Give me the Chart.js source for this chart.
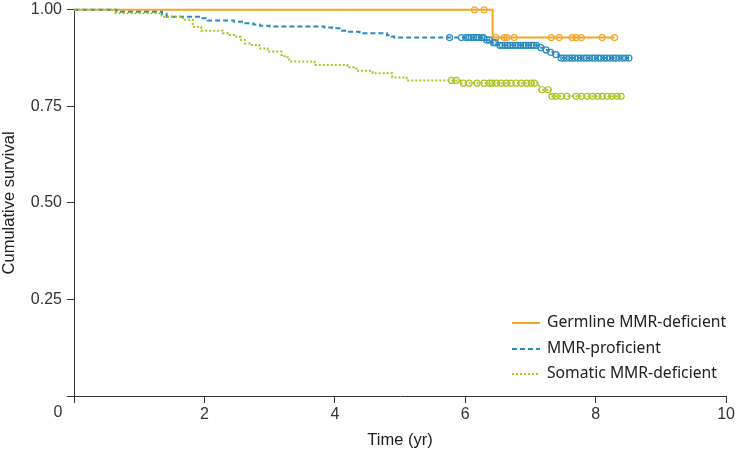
<!DOCTYPE HTML>
<html>

<head>
    <meta charset="UTF-8">
    <title>Cumulative survival</title>
    <script src="https://cdn.jsdelivr.net/npm/chart.js"></script>
    <style>
        html, body { margin: 0; padding: 0; background: #fff; }
        #wrap { width: 737px; height: 451px; }
    </style>
</head>

<body>
    <div id="wrap"><canvas id="myChart"></canvas></div>
    <script>
        // Kaplan-Meier step points (time in years, survival after the step)
        var germlineTime = [0, 6.42, 8.29];
        var germlineSurv = [1, 0.928, 0.928];
        var germlineCensor = [6.14, 6.29, 6.47, 6.6, 6.64, 6.75, 7.32, 7.44, 7.64, 7.7, 7.78, 8.1, 8.29];

        var proficientTime = [0, 0.65, 1.35, 1.42, 1.95, 2.05, 2.45, 2.6, 2.75, 2.85, 3.0, 3.84, 3.96, 4.07, 4.2, 4.38,
            4.8, 4.87, 4.91, 6.3, 6.4, 6.5, 7.13, 7.2, 7.27, 7.35, 7.44, 8.51];
        var proficientSurv = [1, 0.995, 0.99, 0.982, 0.978, 0.972, 0.969, 0.965, 0.962, 0.959, 0.957, 0.954, 0.952, 0.946, 0.943, 0.939,
            0.934, 0.931, 0.928, 0.922, 0.915, 0.908, 0.902, 0.896, 0.89, 0.884, 0.875, 0.875];
        var proficientCensor = [5.76, 5.94, 6.01, 6.05, 6.09, 6.13, 6.17, 6.21, 6.25, 6.28, 6.33, 6.37, 6.43, 6.46, 6.53, 6.57,
            6.61, 6.65, 6.69, 6.73, 6.77, 6.81, 6.85, 6.89, 6.93, 6.97, 7.01, 7.05, 7.09, 7.16, 7.24, 7.31, 7.39, 7.47,
            7.51, 7.55, 7.6, 7.64, 7.68, 7.73, 7.77, 7.82, 7.86, 7.9, 7.95, 7.99, 8.04, 8.08, 8.13, 8.17, 8.22, 8.27,
            8.31, 8.36, 8.41, 8.46, 8.51];

        var somaticTime = [0, 0.62, 1.34, 1.67, 1.82, 1.95, 2.28, 2.36, 2.49, 2.56, 2.62, 2.69, 2.84, 2.97, 3.18, 3.23,
            3.3, 3.69, 4.19, 4.33, 4.58, 4.88, 5.1, 5.94, 7.13, 7.31, 8.39];
        var somaticSurv = [1, 0.991, 0.982, 0.974, 0.956, 0.946, 0.939, 0.935, 0.93, 0.922, 0.913, 0.909, 0.9, 0.892, 0.883, 0.877,
            0.866, 0.857, 0.851, 0.842, 0.836, 0.825, 0.817, 0.81, 0.793, 0.776, 0.776];
        var somaticCensor = [5.79, 5.86, 5.97, 6.06, 6.18, 6.29, 6.37, 6.41, 6.48, 6.55, 6.63, 6.7, 6.78, 6.86, 6.94, 7.01,
            7.06, 7.18, 7.27, 7.33, 7.39, 7.47, 7.56, 7.7, 7.78, 7.87, 7.95, 8.03, 8.1, 8.18, 8.25, 8.33, 8.39];

        var seriesNames = ['Germline MMR-deficient', 'MMR-proficient', 'Somatic MMR-deficient'];
        var seriesColors = ['#f5a623', '#2b8cc0', '#a9c520'];
        var seriesDash = [[], [5, 3], [2, 2]];

        var xTickLabels = { 0: '', 2: '2', 4: '4', 6: '6', 8: '8', 10: '10' };
        var yTickLabels = { 0: '', 0.25: '0.25', 0.5: '0.50', 0.75: '0.75', 1: '1.00' };

        function steps(times, surv) {
            return times.map(function (t, i) { return { x: t, y: surv[i] }; });
        }
        function censors(times, surv, cens) {
            return cens.map(function (c) {
                var v = surv[0];
                for (var i = 0; i < times.length; i++) { if (times[i] <= c) v = surv[i]; }
                return { x: c, y: v };
            });
        }

        var stepData = [steps(germlineTime, germlineSurv), steps(proficientTime, proficientSurv), steps(somaticTime, somaticSurv)];
        var censorData = [censors(germlineTime, germlineSurv, germlineCensor),
            censors(proficientTime, proficientSurv, proficientCensor),
            censors(somaticTime, somaticSurv, somaticCensor)];

        var datasets = [];
        for (var i = 0; i < 3; i++) {
            datasets.push({
                label: seriesNames[i],
                data: stepData[i],
                showLine: true,
                stepped: 'before',
                borderColor: seriesColors[i],
                borderWidth: 2,
                borderDash: seriesDash[i],
                pointRadius: 0,
                clip: 6,
                order: 3 - i
            });
            datasets.push({
                label: seriesNames[i] + ' censored',
                data: censorData[i],
                showLine: false,
                pointStyle: 'circle',
                pointRadius: 3,
                pointBorderWidth: 1.2,
                pointBorderColor: seriesColors[i],
                pointBackgroundColor: 'rgba(255,255,255,0)',
                clip: 6,
                order: 3 - i
            });
        }

        var tickFont = { family: 'Liberation Sans', size: 16 };
        var axisColor = '#333';

        // legend in the lower right and the shared "0" at the origin
        var extras = {
            id: 'extras',
            afterDraw: function (chart) {
                var ctx = chart.ctx;
                ctx.save();
                ctx.font = '16px "Liberation Sans"';
                ctx.fillStyle = axisColor;
                ctx.textAlign = 'center';
                ctx.textBaseline = 'middle';
                ctx.fillText('0', 58, 413);

                ctx.font = '15.7px "Noto Sans"';
                ctx.textAlign = 'left';
                var rows = [323, 349, 374];
                for (var i = 0; i < 3; i++) {
                    ctx.strokeStyle = seriesColors[i];
                    ctx.lineWidth = 2;
                    ctx.setLineDash(seriesDash[i]);
                    ctx.beginPath();
                    ctx.moveTo(512, rows[i]);
                    ctx.lineTo(540, rows[i]);
                    ctx.stroke();
                    ctx.fillStyle = '#222';
                    ctx.fillText(seriesNames[i], 547, rows[i]);
                }
                ctx.restore();
            }
        };

        var ctx = document.getElementById('myChart').getContext('2d');
        var chart = new Chart(ctx, {
            type: 'scatter',
            data: { datasets: datasets },
            plugins: [extras],
            options: {
                responsive: true,
                maintainAspectRatio: false,
                animation: false,
                layout: { padding: { top: 8, right: 10, left: 0, bottom: 0 } },
                plugins: { legend: { display: false }, tooltip: { enabled: false } },
                scales: {
                    x: {
                        type: 'linear',
                        min: 0, max: 10,
                        afterFit: function (s) { s.height = 55; },
                        ticks: {
                            stepSize: 2,
                            font: tickFont,
                            color: axisColor,
                            padding: 2,
                            maxRotation: 0,
                            callback: function (v) { return xTickLabels[v]; }
                        },
                        grid: { drawOnChartArea: false, tickLength: 7, color: axisColor, lineWidth: 1 },
                        border: { color: axisColor, width: 1 },
                        title: {
                            display: true, text: 'Time (yr)', color: '#222',
                            font: { family: 'Liberation Sans', size: 16.5 },
                            padding: { top: 0, bottom: 1 }
                        }
                    },
                    y: {
                        type: 'linear',
                        min: 0, max: 1,
                        afterFit: function (s) { s.width = 74; },
                        ticks: {
                            stepSize: 0.25,
                            font: { family: 'Liberation Sans', size: 16, lineHeight: 0.6 },
                            color: axisColor,
                            padding: 5,
                            callback: function (v) { return yTickLabels[v]; }
                        },
                        grid: { drawOnChartArea: false, tickLength: 7, color: axisColor, lineWidth: 1 },
                        border: { color: axisColor, width: 1 },
                        title: {
                            display: true, text: 'Cumulative survival', color: '#222',
                            font: { family: 'Liberation Sans', size: 16.5 },
                            padding: 0
                        }
                    }
                }
            }
        });
    </script>
</body>

</html>
